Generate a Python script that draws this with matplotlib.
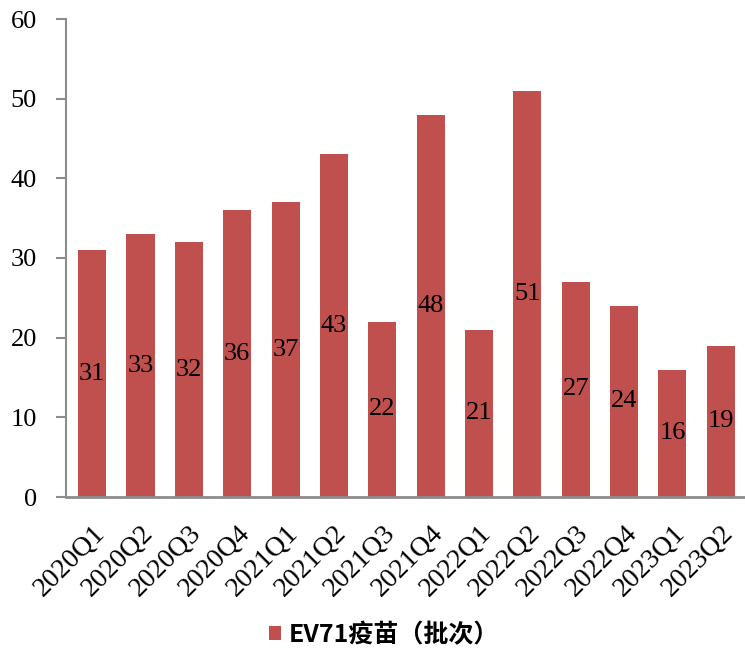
import matplotlib
matplotlib.use("Agg")
import matplotlib.pyplot as plt
from matplotlib.patches import Patch

categories = ["2020Q1", "2020Q2", "2020Q3", "2020Q4", "2021Q1", "2021Q2", "2021Q3",
              "2021Q4", "2022Q1", "2022Q2", "2022Q3", "2022Q4", "2023Q1", "2023Q2"]
values = [31, 33, 32, 36, 37, 43, 22, 48, 21, 51, 27, 24, 16, 19]
series_name = "EV71疫苗（批次）"
yticks = [0, 10, 20, 30, 40, 50, 60]

bar_color = "#C0504D"
axis_color = "#8C8C8C"
serif = ["Liberation Serif", "DejaVu Serif"]

fig = plt.figure(figsize=(7.45, 6.5), dpi=100)
ax = fig.add_axes([66/745, 153/650, (745-66)/745, (497-19)/650])

x = list(range(len(categories)))
bars = ax.bar(x, values, width=0.58, color=bar_color, zorder=2)
for xi, v in zip(x, values):
    ax.text(xi, v/2, str(v), ha="center", va="center", fontsize=19,
            family=serif, color="black", zorder=3)

ax.set_xlim(-0.54, len(categories) - 0.5)
ax.set_ylim(0, 60)
ax.set_yticks(yticks)
ax.set_yticklabels([str(t) for t in yticks], family=serif, fontsize=19)
ax.set_xticks(x)
ax.set_xticklabels(categories, rotation=45, ha="right", rotation_mode="anchor",
                   family=serif, fontsize=20)
ax.tick_params(axis="x", length=0, pad=17)
ax.tick_params(axis="y", length=7, width=1.5, color=axis_color, pad=14, direction="out")
for s in ["top", "right"]:
    ax.spines[s].set_visible(False)
ax.spines["left"].set_color(axis_color)
ax.spines["left"].set_linewidth(1.5)
ax.spines["bottom"].set_color(axis_color)
ax.spines["bottom"].set_linewidth(2)

handle = Patch(facecolor=bar_color, edgecolor="none")
fig.legend([handle], [series_name], loc="center", bbox_to_anchor=(384/745, 15/650),
           frameon=False, prop={"family": ["Noto Sans CJK SC", "DejaVu Sans"],
                                 "weight": "bold", "size": 18},
           handlelength=0.5, handleheight=0.5, handletextpad=0.3)

fig.savefig("out.png", dpi=100)
